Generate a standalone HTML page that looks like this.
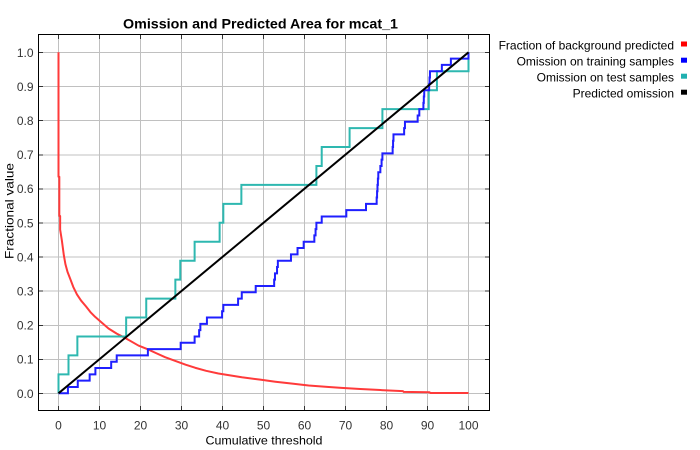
<!DOCTYPE html>
<html><head><meta charset="utf-8"><style>
html,body{margin:0;padding:0;background:#fff;}
svg{display:block;}
text{font-family:"Liberation Sans",Arial,sans-serif;}
</style></head><body>
<svg width="700" height="450" viewBox="0 0 700 450" xmlns="http://www.w3.org/2000/svg">
<rect x="0" y="0" width="700" height="450" fill="#fff"/>
<text x="260.5" y="28.5" font-size="14" font-weight="bold" text-anchor="middle" textLength="275" lengthAdjust="spacingAndGlyphs" fill="#000">Omission and Predicted Area for mcat_1</text>
<rect x="38.5" y="34.5" width="451" height="376" fill="#fff"/>
<g stroke="#c0c0c0" stroke-width="1" shape-rendering="crispEdges">
<line x1="58.5" y1="35" x2="58.5" y2="410"/><line x1="99.5" y1="35" x2="99.5" y2="410"/><line x1="140.5" y1="35" x2="140.5" y2="410"/><line x1="181.5" y1="35" x2="181.5" y2="410"/><line x1="222.5" y1="35" x2="222.5" y2="410"/><line x1="263.5" y1="35" x2="263.5" y2="410"/><line x1="304.5" y1="35" x2="304.5" y2="410"/><line x1="345.5" y1="35" x2="345.5" y2="410"/><line x1="386.5" y1="35" x2="386.5" y2="410"/><line x1="427.5" y1="35" x2="427.5" y2="410"/><line x1="468.5" y1="35" x2="468.5" y2="410"/>
<line x1="39" y1="393.5" x2="489" y2="393.5"/><line x1="39" y1="359.4" x2="489" y2="359.4"/><line x1="39" y1="325.3" x2="489" y2="325.3"/><line x1="39" y1="291.2" x2="489" y2="291.2"/><line x1="39" y1="257.1" x2="489" y2="257.1"/><line x1="39" y1="223" x2="489" y2="223"/><line x1="39" y1="188.9" x2="489" y2="188.9"/><line x1="39" y1="154.8" x2="489" y2="154.8"/><line x1="39" y1="120.7" x2="489" y2="120.7"/><line x1="39" y1="86.6" x2="489" y2="86.6"/><line x1="39" y1="52.5" x2="489" y2="52.5"/>
</g>
<g transform="translate(58.5,393.3) scale(4.1,-341)" fill="none" stroke-linejoin="round">
<path vector-effect="non-scaling-stroke" stroke="#ff3a3a" stroke-width="2" d="M0,1 V0.635 H0.2 V0.52 H0.4 V0.48 L0.6,0.465 L0.8,0.45 L1.0,0.432 L1.3,0.405 L1.7,0.378 L2.2,0.356 L2.85,0.336 L3.6,0.312 L4.5,0.29 L5.5,0.272 L6.7,0.255 L7.8,0.238 L8.95,0.224 L10.2,0.211 L12.2,0.19 L14.2,0.175 L16.3,0.162 L19.5,0.14 L21.8,0.129 L23.6,0.119 L26,0.106 L28.5,0.095 L31,0.084 L33.3,0.075 L36,0.066 L39,0.058 L44.7,0.047 L49.2,0.040 L52.9,0.034 L57.3,0.028 L61,0.023 L65.5,0.019 L69,0.016 L73.6,0.0125 L78.5,0.0095 L84,0.0065 L84.2,0.004 L90.5,0.003 L90.7,0.001 L100,0.001"/>
</g>
<g transform="translate(58.5,393.3) scale(4.1,-18.9444)" fill="none">
<path vector-effect="non-scaling-stroke" stroke="#2eb8b0" stroke-width="2" d="M0,0 V1 H2.44 V2 H4.6 V3 H16.5 V4 H21.4 V5 H28.5 V6 H29.7 V7 H33.2 V8 H39.3 V9 H40.2 V10 H44.6 V11 H62.9 V12 H64.2 V13 H71 V14 H79 V15 H90.3 V16 H92.3 V17 H100 V18"/>
</g>
<g transform="translate(58.5,393.3) scale(4.1,-6.3148)" fill="none">
<path vector-effect="non-scaling-stroke" stroke="#1f1fff" stroke-width="2" d="M0,0 H2.3 V1 H4.7 V2 H7.6 V3 H9.0 V4 H12.85 V5 H14.2 V6 H21.8 V7 H29.8 V8 H33.2 V9 H34.3 V10 H34.6 V11 H36.2 V12 H39.9 V13 H40.2 V14 H43.8 V15 H44.7 V16 H48.1 V17 H52.6 V18 H52.8 V19 H53.3 V20 H53.5 V21 H56.7 V22 H58.3 V23 H59.8 V24 H62.4 V25 H62.7 V26 H62.9 V27 H64.2 V28 H70.2 V29 H75 V30 H77.6 V31 H77.7 V32 H77.8 V33 H77.9 V34 H78.0 V35 H78.5 V36 H78.8 V37 H79 V38 H81.5 V39 H81.6 V40 H81.7 V41 H84.3 V42 H84.5 V43 H87.6 V44 H88 V45 H89 V46 H89.1 V47 H89.2 V48 H90.4 V49 H90.5 V50 H90.6 V51 H93.5 V52 H95.7 V53 H100 V54"/>
</g>
<line x1="58.5" y1="393.3" x2="468.5" y2="52.3" stroke="#000" stroke-width="2"/>
<rect x="38.5" y="34.5" width="451" height="376" fill="none" stroke="#000" stroke-width="1" shape-rendering="crispEdges"/>
<g stroke="#333" stroke-width="1" shape-rendering="crispEdges">
<path d="M58.5,410 v-4 M99.5,410 v-4 M140.5,410 v-4 M181.5,410 v-4 M222.5,410 v-4 M263.5,410 v-4 M304.5,410 v-4 M345.5,410 v-4 M386.5,410 v-4 M427.5,410 v-4 M468.5,410 v-4"/>
<path d="M58.5,35 v4 M99.5,35 v4 M140.5,35 v4 M181.5,35 v4 M222.5,35 v4 M263.5,35 v4 M304.5,35 v4 M345.5,35 v4 M386.5,35 v4 M427.5,35 v4 M468.5,35 v4"/>
<path d="M39,393.5 h4 M39,359.4 h4 M39,325.3 h4 M39,291.2 h4 M39,257.1 h4 M39,223 h4 M39,188.9 h4 M39,154.8 h4 M39,120.7 h4 M39,86.6 h4 M39,52.5 h4"/>
<path d="M489,393.5 h-4 M489,359.4 h-4 M489,325.3 h-4 M489,291.2 h-4 M489,257.1 h-4 M489,223 h-4 M489,188.9 h-4 M489,154.8 h-4 M489,120.7 h-4 M489,86.6 h-4 M489,52.5 h-4"/>
</g>
<g font-size="12" fill="#333" text-anchor="end">
<text x="33.5" y="397.8">0.0</text><text x="33.5" y="363.7">0.1</text><text x="33.5" y="329.6">0.2</text><text x="33.5" y="295.5">0.3</text><text x="33.5" y="261.4">0.4</text><text x="33.5" y="227.3">0.5</text><text x="33.5" y="193.2">0.6</text><text x="33.5" y="159.1">0.7</text><text x="33.5" y="125">0.8</text><text x="33.5" y="90.9">0.9</text><text x="33.5" y="56.8">1.0</text>
</g>
<g font-size="12" fill="#333" text-anchor="middle">
<text x="58.5" y="429.5">0</text><text x="99.5" y="429.5">10</text><text x="140.5" y="429.5">20</text><text x="181.5" y="429.5">30</text><text x="222.5" y="429.5">40</text><text x="263.5" y="429.5">50</text><text x="304.5" y="429.5">60</text><text x="345.5" y="429.5">70</text><text x="386.5" y="429.5">80</text><text x="427.5" y="429.5">90</text><text x="468.5" y="429.5">100</text>
</g>
<text x="264" y="444.5" font-size="12" fill="#000" text-anchor="middle" textLength="117" lengthAdjust="spacingAndGlyphs">Cumulative threshold</text>
<text transform="translate(13.5,211) rotate(-90)" x="0" y="0" font-size="12" fill="#000" text-anchor="middle" textLength="96" lengthAdjust="spacingAndGlyphs">Fractional value</text>
<g font-size="12" fill="#000" text-anchor="end">
<text x="674" y="49.3">Fraction of background predicted</text>
<text x="674" y="65.6">Omission on training samples</text>
<text x="674" y="81.7">Omission on test samples</text>
<text x="674" y="97.7">Predicted omission</text>
</g>
<rect x="681" y="41.5" width="6" height="5" fill="#ff0000"/>
<rect x="681" y="57.7" width="6" height="5" fill="#0000ff"/>
<rect x="681" y="73.7" width="6" height="5" fill="#20b0b0"/>
<rect x="681" y="89.7" width="6" height="5" fill="#000000"/>
</svg>
</body></html>
